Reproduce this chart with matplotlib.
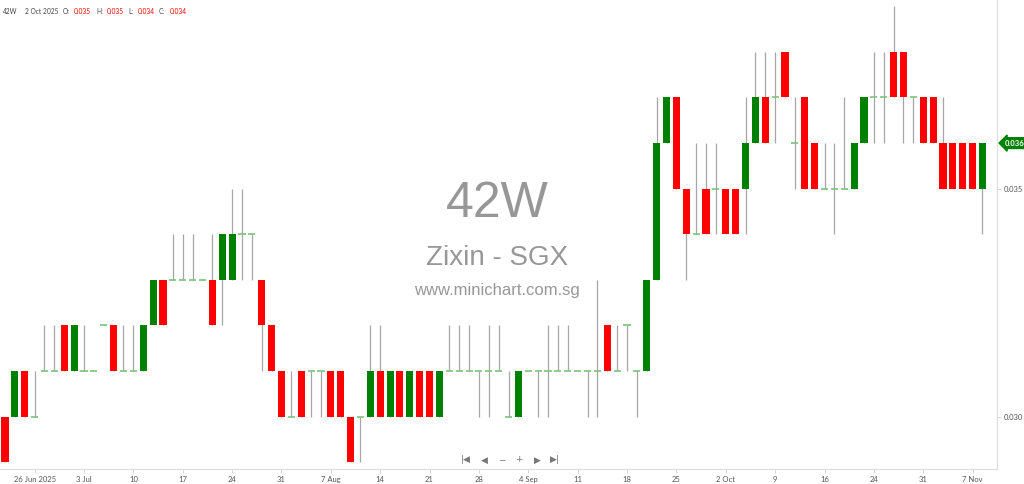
import numpy as np
import matplotlib
matplotlib.use('Agg')
import matplotlib.pyplot as plt
import matplotlib.transforms as mtransforms

# ---------- data (daily candles, 23 Jun 2025 .. 10 Nov 2025) ---------------
opens = [0.030, 0.030, 0.031, 0.030, 0.031, 0.031, 0.032, 0.031, 0.031, 0.031,
         0.032, 0.032, 0.031, 0.031, 0.031, 0.032, 0.033, 0.033, 0.033, 0.033,
         0.033, 0.033, 0.033, 0.033, 0.034, 0.034, 0.033, 0.032, 0.031, 0.030,
         0.031, 0.031, 0.031, 0.031, 0.031, 0.030, 0.030, 0.030, 0.031, 0.030,
         0.031, 0.030, 0.031, 0.031, 0.030, 0.031, 0.031, 0.031, 0.031, 0.031,
         0.031, 0.030, 0.030, 0.031, 0.031, 0.031, 0.031, 0.031, 0.031, 0.031,
         0.031, 0.032, 0.031, 0.032, 0.031, 0.031, 0.033, 0.036, 0.037, 0.035,
         0.034, 0.035, 0.035, 0.035, 0.035, 0.035, 0.036, 0.037, 0.037, 0.038,
         0.036, 0.037, 0.036, 0.035, 0.035, 0.035, 0.035, 0.036, 0.037, 0.037,
         0.038, 0.038, 0.037, 0.037, 0.037, 0.036, 0.036, 0.036, 0.036, 0.035]
highs = [0.030, 0.031, 0.031, 0.031, 0.032, 0.032, 0.032, 0.032, 0.032, 0.031,
         0.032, 0.032, 0.032, 0.032, 0.032, 0.033, 0.033, 0.034, 0.034, 0.034,
         0.033, 0.034, 0.034, 0.035, 0.035, 0.034, 0.033, 0.032, 0.031, 0.031,
         0.031, 0.031, 0.031, 0.031, 0.031, 0.030, 0.030, 0.032, 0.032, 0.031,
         0.031, 0.031, 0.031, 0.031, 0.031, 0.032, 0.032, 0.032, 0.031, 0.032,
         0.032, 0.031, 0.031, 0.031, 0.031, 0.032, 0.032, 0.032, 0.031, 0.031,
         0.033, 0.032, 0.032, 0.032, 0.031, 0.033, 0.037, 0.037, 0.037, 0.035,
         0.036, 0.036, 0.036, 0.035, 0.035, 0.037, 0.038, 0.038, 0.038, 0.038,
         0.037, 0.037, 0.036, 0.036, 0.036, 0.037, 0.036, 0.037, 0.038, 0.038,
         0.039, 0.038, 0.037, 0.037, 0.037, 0.037, 0.036, 0.036, 0.036, 0.036]
lows = [0.029, 0.030, 0.030, 0.030, 0.031, 0.031, 0.031, 0.031, 0.031, 0.031,
        0.032, 0.031, 0.031, 0.031, 0.031, 0.032, 0.032, 0.033, 0.033, 0.033,
        0.033, 0.032, 0.032, 0.033, 0.033, 0.033, 0.031, 0.031, 0.030, 0.030,
        0.030, 0.030, 0.030, 0.030, 0.030, 0.029, 0.029, 0.030, 0.030, 0.030,
        0.030, 0.030, 0.030, 0.030, 0.030, 0.031, 0.031, 0.031, 0.030, 0.030,
        0.031, 0.030, 0.030, 0.031, 0.030, 0.030, 0.031, 0.031, 0.031, 0.030,
        0.030, 0.031, 0.031, 0.031, 0.030, 0.031, 0.033, 0.036, 0.035, 0.033,
        0.034, 0.034, 0.034, 0.034, 0.034, 0.034, 0.036, 0.036, 0.036, 0.037,
        0.035, 0.035, 0.035, 0.035, 0.034, 0.035, 0.035, 0.036, 0.036, 0.036,
        0.037, 0.036, 0.036, 0.036, 0.036, 0.035, 0.035, 0.035, 0.035, 0.034]
closes = [0.029, 0.031, 0.030, 0.030, 0.031, 0.031, 0.031, 0.032, 0.031, 0.031,
          0.032, 0.031, 0.031, 0.031, 0.032, 0.033, 0.032, 0.033, 0.033, 0.033,
          0.033, 0.032, 0.034, 0.034, 0.034, 0.034, 0.032, 0.031, 0.030, 0.030,
          0.030, 0.031, 0.031, 0.030, 0.030, 0.029, 0.030, 0.031, 0.030, 0.031,
          0.030, 0.031, 0.030, 0.030, 0.031, 0.031, 0.031, 0.031, 0.031, 0.031,
          0.031, 0.030, 0.031, 0.031, 0.031, 0.031, 0.031, 0.031, 0.031, 0.031,
          0.031, 0.031, 0.031, 0.032, 0.031, 0.033, 0.036, 0.037, 0.035, 0.034,
          0.034, 0.034, 0.035, 0.034, 0.034, 0.036, 0.037, 0.036, 0.037, 0.037,
          0.036, 0.035, 0.035, 0.035, 0.035, 0.035, 0.036, 0.037, 0.037, 0.037,
          0.037, 0.037, 0.037, 0.036, 0.036, 0.035, 0.035, 0.035, 0.035, 0.036]

tick_pos = [3, 8, 13, 18, 23, 28, 33, 38, 43, 48,
            53, 58, 63, 68, 73, 78, 83, 88, 93, 98]
tick_labels = ['26 Jun 2025', '3 Jul', '10', '17', '24', '31', '7 Aug', '14', '21', '28',
               '4 Sep', '11', '18', '25', '2 Oct', '9', '16', '24', '31', '7 Nov']

last_price = 0.036

UP = '#008000'
DOWN = '#ff0000'
WICK = '#a6a6a6'
FLAT = '#7cc47c'
W = 0.72

# ---------- figure ----------------------------------------------------------
fig = plt.figure(figsize=(10.24, 4.84), dpi=100)
ax = fig.add_axes([0.0, 15 / 484, 997 / 1024, 469 / 484])

o = np.array(opens)
h = np.array(highs)
l = np.array(lows)
c = np.array(closes)
x = np.arange(len(o))

# wicks behind bodies
ax.vlines(x, l, h, color=WICK, lw=0.9, zorder=1)

up = c > o
dn = c < o
eq = c == o
ax.bar(x[up], (c - o)[up], bottom=o[up], width=W, color=UP, lw=0, zorder=2)
ax.bar(x[dn], (o - c)[dn], bottom=c[dn], width=W, color=DOWN, lw=0, zorder=2)
ax.hlines(o[eq], x[eq] - W / 2, x[eq] + W / 2, color=FLAT, lw=1.2, zorder=3)

ax.set_xlim(-0.506, 100.47)
ax.set_ylim(0.028853, 0.039138)

# ---------- axes styling ----------------------------------------------------
for s in ['top', 'left']:
    ax.spines[s].set_visible(False)
for s in ['right', 'bottom']:
    ax.spines[s].set_color('#dcdcdc')
    ax.spines[s].set_linewidth(0.8)

ax.set_xticks(tick_pos)
ax.set_xticklabels(tick_labels, fontfamily='Lato')
ax.tick_params(axis='x', length=3, width=0.6, color='#cfcfcf',
               labelsize=5.5, labelcolor='#555555', pad=2)

ax.yaxis.tick_right()
ax.set_yticks([0.030, 0.035])
ax.set_yticklabels(['0.030', '0.035'], fontfamily='Lato')
ax.tick_params(axis='y', length=3, width=0.6, color='#cfcfcf',
               labelsize=5.5, labelcolor='#555555', pad=2)

# last price tag
trans = mtransforms.blended_transform_factory(ax.transAxes, ax.transData)
ax.text(1.008, last_price, '%.3f' % last_price, transform=trans,
        fontsize=5.5, fontweight='bold', color='white', va='center', ha='left',
        fontfamily='Lato', clip_on=False,
        bbox=dict(boxstyle='larrow,pad=0.25', fc=UP, ec=UP))

# ---------- watermark -------------------------------------------------------
def px(xp, yp):
    return xp / 1024, 1 - yp / 484

fig.text(*px(497, 204), '42W', fontsize=36, color='#8c8c8c', alpha=0.9,
         ha='center', va='center', fontfamily='Liberation Sans')
fig.text(*px(497, 258), 'Zixin - SGX', fontsize=20, color='#8c8c8c', alpha=0.9,
         ha='center', va='center', fontfamily='Liberation Sans')
fig.text(*px(497, 290), 'www.minichart.com.sg', fontsize=12, color='#8c8c8c',
         alpha=0.9, ha='center', va='center', fontfamily='Liberation Sans')

# navigation buttons
for xp, s in zip([466, 484, 502, 519, 537, 555],
                 ['|\u25c0', '\u25c0', '\u2212', '+', '\u25b6', '\u25b6|']):
    fig.text(*px(xp, 460), s, fontsize=6.5, color='#777777',
             ha='center', va='center', fontfamily='DejaVu Sans')

# ---------- header ----------------------------------------------------------
hdr = [(3, '42W', '#444444'), (25, '2 Oct 2025', '#444444'),
       (63, 'O:', '#444444'), (74, '%.3f' % opens[73], DOWN),
       (96, 'H:', '#444444'), (107, '%.3f' % highs[73], DOWN),
       (128, 'L:', '#444444'), (138, '%.3f' % lows[73], DOWN),
       (159, 'C:', '#444444'), (170, '%.3f' % closes[73], DOWN)]
for xp, s, col in hdr:
    fig.text(*px(xp, 11), s, fontsize=4.8, color=col, ha='left', va='center',
             fontfamily='Lato')

fig.savefig('out.png', dpi=100)
